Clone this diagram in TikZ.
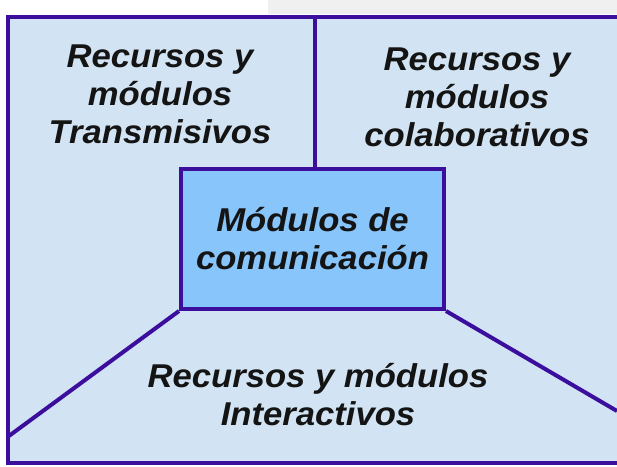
\documentclass[tikz,border=0pt]{standalone}
\usepackage{fontspec}
\setmainfont{Liberation Sans}
\newfontfamily\labfont[FakeStretch=1.05, BoldItalicFont={* Bold Italic}]{Liberation Sans}
\definecolor{bgblue}{HTML}{D2E4F3}
\definecolor{boxblue}{HTML}{88C5FA}
\definecolor{edgecol}{HTML}{3C0E9E}
\begin{document}
\begin{tikzpicture}[x=1pt,y=-1pt,
  lab/.style={align=center, inner sep=0pt, font=\labfont\fontsize{33}{38}\selectfont\bfseries\itshape, text=black!92},
  partline/.style={draw=edgecol, line width=4pt, line join=miter, line cap=butt},
  combox/.style={lab, draw=edgecol, fill=boxblue, line width=4pt, minimum width=263pt, minimum height=140pt}]
\useasboundingbox (0,0) rectangle (617,466);
\fill[black!6] (268,0) rectangle (617,14);
\fill[bgblue] (7.5,17) rectangle (617,463);
\coordinate (tl) at (7.5,17);
\coordinate (tr) at (617,17);
\coordinate (bl) at (7.5,463);
\coordinate (br) at (617,463);
\coordinate (divtop) at (315,17);
\coordinate (lm) at (7.5,437);
\coordinate (rm) at (617,411);
\node[combox] (c) at (312.5,239) {Módulos de\\comunicación};
\draw[partline] (c.north -| divtop) -- (divtop);
\draw[partline] (c.south west) -- (lm);
\draw[partline] (c.south east) -- (rm);
\draw[partline, line cap=rect] (tr) -- (tl) -- (bl) -- (br);
\node[lab] (t1) at (160,94) {Recursos y\\módulos\\Transmisivos};
\node[lab] (t2) at (477,97) {Recursos y\\módulos\\colaborativos};
\node[lab] (t3) at (318,395) {Recursos y módulos\\Interactivos};
\end{tikzpicture}
\end{document}
